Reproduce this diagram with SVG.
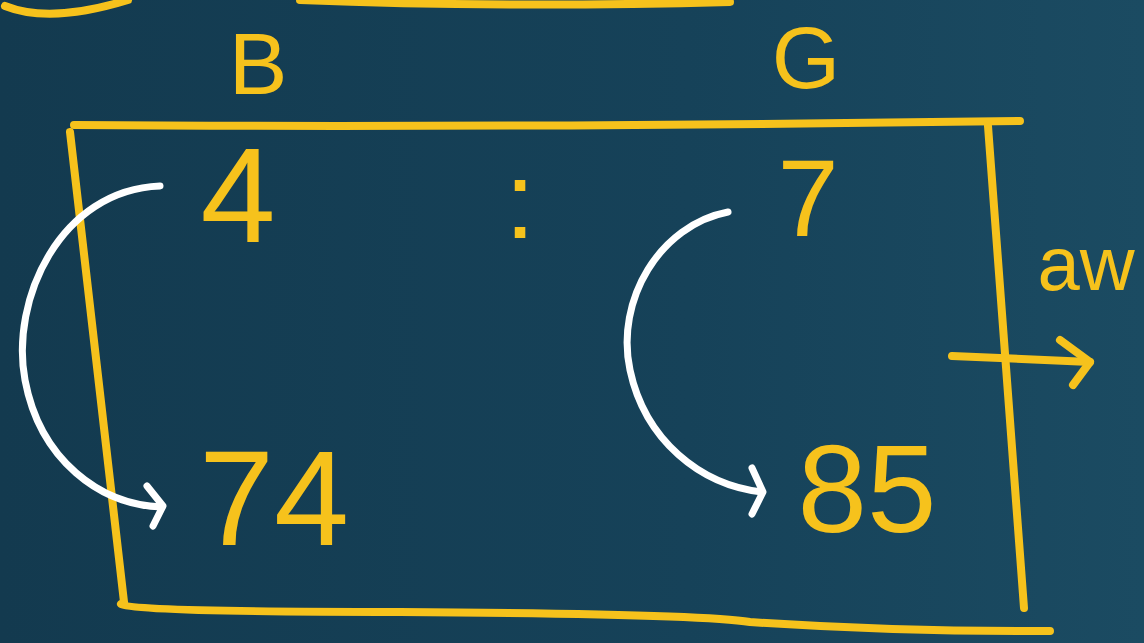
<svg xmlns="http://www.w3.org/2000/svg" width="1144" height="643" viewBox="0 0 1144 643">
<defs>
<linearGradient id="bg" x1="0" y1="0" x2="1" y2="0">
<stop offset="0" stop-color="#133a4f"/>
<stop offset="0.6" stop-color="#164259"/>
<stop offset="1" stop-color="#1b4b62"/>
</linearGradient>
<style>
.y{fill:none;stroke:#f6c21c;stroke-width:8;stroke-linecap:round;stroke-linejoin:round}
.w{fill:none;stroke:#ffffff;stroke-width:7;stroke-linecap:round;stroke-linejoin:round}
.t{fill:#f6c21c;font-family:"Liberation Sans",Arial,sans-serif;font-weight:400;text-anchor:middle}
</style>
</defs>
<rect width="1144" height="643" fill="url(#bg)"/>
<g id="frame">
<path class="y" d="M5,6 Q50,24 128,0"/>
<path class="y" d="M300,0 Q500,8 730,2"/>
<path class="y" d="M74,125 Q500,128 1020,121"/>
<path class="y" d="M70,132 L124,602"/>
<path class="y" d="M121,604 Q130,612 400,612 Q700,614 750,622 Q900,632 1050,631"/>
<path class="y" d="M988,126 L1024,608"/>
</g>
<g id="labels">
<text class="t" x="258" y="94" font-size="88">B</text>
<text class="t" x="806" y="88" font-size="88">G</text>
<text class="t" x="238" y="242" font-size="135">4</text>
<text class="t" x="520" y="238" font-size="110">:</text>
<text class="t" x="808" y="236" font-size="110">7</text>
<text class="t" x="274" y="545" font-size="135">74</text>
<text class="t" x="867" y="532" font-size="125">85</text>
<text class="t" x="1086" y="290" font-size="76">aw</text>
</g>
<g id="connectors">
<path class="w" d="M160,186 C60,190 10,300 25,380 C40,460 100,505 162,507"/>
<path class="w" d="M147,486 L163,506 L153,526"/>
<path class="w" d="M728,212 C660,225 615,300 630,370 C645,440 700,485 762,492"/>
<path class="w" d="M752,468 L763,492 L752,514"/>
<path class="y" d="M952,356 L1090,362"/>
<path class="y" d="M1060,340 L1090,362 L1073,385"/>
</g>
</svg>
